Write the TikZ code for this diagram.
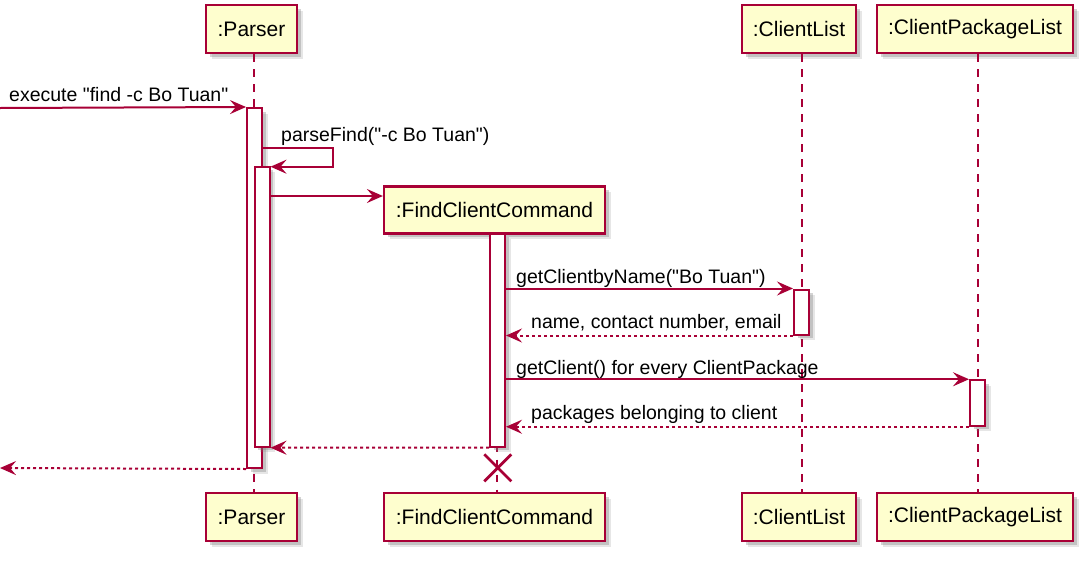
\documentclass[tikz,border=0pt]{standalone}
\usepackage{fontspec}
\setmainfont{Liberation Sans}[Ligatures=TeXOff]
\usetikzlibrary{arrows.meta,shadows}
\definecolor{umlred}{HTML}{A80036}
\definecolor{umlyellow}{HTML}{FEFECE}
\begin{document}
\begin{tikzpicture}[x=1pt,y=-1pt,>={Stealth[length=16pt,width=14pt,inset=6pt]},
	soft/.style={drop shadow={shadow xshift=5.5pt,shadow yshift=-5.5pt,opacity=.2},
		drop shadow={shadow xshift=3.5pt,shadow yshift=-3.5pt,opacity=.35}},
	party/.style={draw=umlred,fill=umlyellow,line width=2.2pt,minimum height=48pt,inner sep=0pt,
		font=\fontsize{21}{25}\selectfont,soft},
	act/.style={draw=umlred,fill=white,line width=2pt,minimum width=15pt,inner sep=0pt,soft},
	life/.style={umlred,line width=2pt,dash pattern=on 7.5pt off 7.5pt},
	msg/.style={->,umlred,line width=2pt},
	ret/.style={msg,dash pattern=on 3pt off 3pt},
	lbl/.style={anchor=base west,inner sep=0pt,font=\fontsize{19.5}{23}\selectfont}]
			\useasboundingbox (0,0) rectangle (1084,560);
			\node[party,minimum width=91pt] (p1) at (251.5,29) {:Parser};
			\node[party,minimum width=114pt] (c1) at (799,29) {:ClientList};
			\node[party,minimum width=196pt] (k1) at (975,29) {:ClientPackageList};
			\node[party,minimum width=91pt] (p2) at (251.5,517) {:Parser};
			\node[party,minimum width=221pt] (f2) at (494.5,517) {:FindClientCommand};
			\node[party,minimum width=114pt] (c2) at (799,517) {:ClientList};
			\node[party,minimum width=196pt] (k2) at (975,517) {:ClientPackageList};
			\node[party,minimum width=221pt,minimum height=47pt] (f1) at (494.5,210) {:FindClientCommand};
			\draw[life] ([xshift=2.5pt]p1.south) -- ([xshift=2.5pt]p2.north);
			\draw[life] ([xshift=2.5pt]f1.south) -- ([xshift=2.5pt]f2.north);
			\draw[life] ([xshift=2.5pt]c1.south) -- ([xshift=2.5pt]c2.north);
			\draw[life] ([xshift=2.5pt]k1.south) -- ([xshift=2.5pt]k2.north);
			\node[act,minimum height=360pt] (a1) at (254.5,288) {};
			\node[act,minimum height=280pt] (a2) at (262,306.7) {};
			\node[act,minimum height=213pt] (a3) at (497.5,340) {};
			\node[act,minimum height=45pt] (a4) at (801.5,312) {};
			\node[act,minimum height=45.5pt] (a5) at (977.5,403) {};
			\coordinate (in) at (0,108);
			\coordinate (out) at (0,468);
			\coordinate (s1) at (333,147.7);
			\coordinate (s2) at (333,166.7);
			\coordinate (r3) at (0,196);
			\coordinate (kill) at (497.8,467.8);
			\draw[msg] (in) -- (a1.north west);
			\node[lbl] (m1) at (9,101.5) {execute "find -c Bo Tuan"};
			\draw[msg] (a1.east |- s1) -- (s1) -- (s2) -- (a2.east |- s2);
			\node[lbl] (m2) at (281,141) {parseFind("-c Bo Tuan")};
			\draw[msg] (a2.east |- r3) -- (f1.west |- r3);
			\draw[msg] (a3.east |- a4.north) -- (a4.north west);
			\node[lbl] (m3) at (516,283.5) {getClientbyName("Bo Tuan")};
			\draw[ret] (a4.south west) -- (a3.east |- a4.south);
			\node[lbl] (m4) at (531,328.5) {name, contact number, email};
			\draw[msg] (a3.east |- a5.north) -- (a5.north west);
			\node[lbl] (m5) at (516,374) {getClient() for every ClientPackage};
			\draw[ret] (a5.south west) -- (a3.east |- a5.south);
			\node[lbl] (m6) at (531,419) {packages belonging to client};
			\draw[ret] (a3.south west) -- (a2.south east);
			\draw[ret] (a1.south west) -- (out);
			\draw[umlred,line width=2.8pt] ([shift={(-13.5,-13.5)}]kill) -- ([shift={(13.5,13.5)}]kill)
			([shift={(-13.5,13.5)}]kill) -- ([shift={(13.5,-13.5)}]kill);
\end{tikzpicture}
\end{document}
